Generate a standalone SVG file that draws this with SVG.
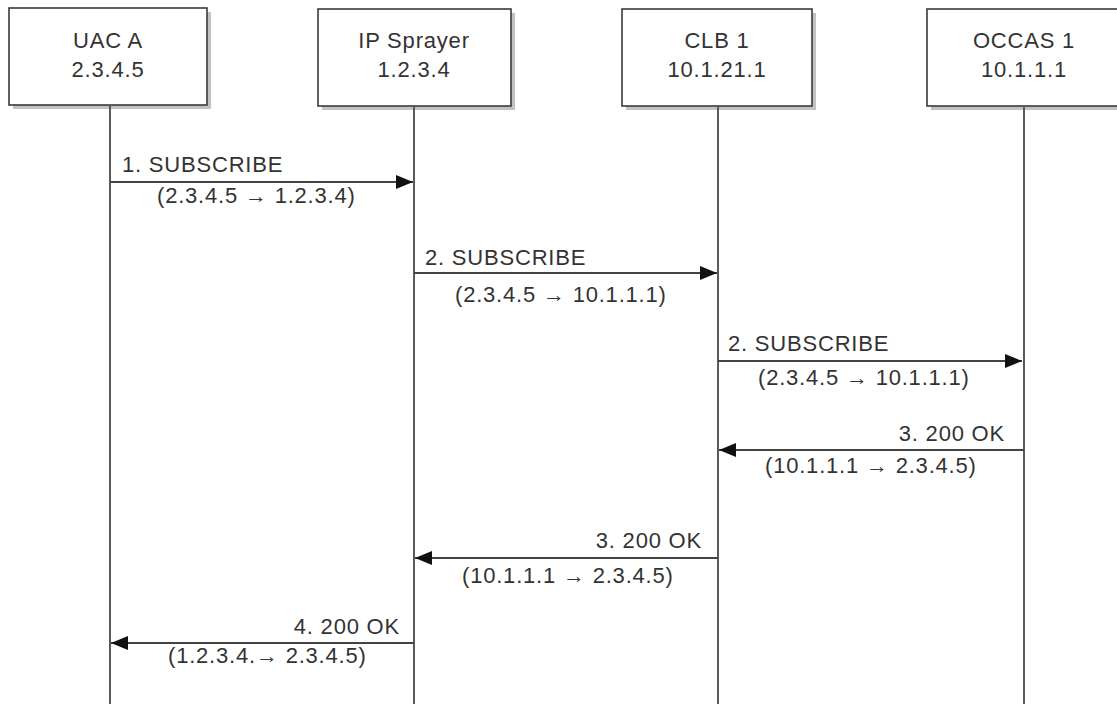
<svg xmlns="http://www.w3.org/2000/svg" width="1117" height="704" viewBox="0 0 1117 704">
<style>
.box{fill:#fff;stroke:#3a3a3a;stroke-width:1.6}
.shadow{fill:#9a9a9a;opacity:0.6}
.life{stroke:#5a5a5a;stroke-width:2;fill:none}
.msg{stroke:#444;stroke-width:2.2;fill:none;marker-end:url(#ah)}
text{font-family:"Liberation Sans",Arial,sans-serif;font-size:22px;fill:#333;letter-spacing:0.8px}
.c{text-anchor:middle}
.e{text-anchor:end}
</style>
<defs>
<marker id="ah" markerUnits="userSpaceOnUse" markerWidth="18" markerHeight="16" refX="17" refY="8" orient="auto">
<path d="M0,1 L17,8 L0,15 z" fill="#111"/>
</marker>
</defs>
<rect width="1117" height="704" fill="#fff"/>
<g id="uac">
<rect class="shadow" x="13" y="12" width="198" height="97"/>
<rect class="box" x="9" y="8" width="198" height="97"/>
<text class="c" x="108" y="48">UAC A</text>
<text class="c" x="108" y="77">2.3.4.5</text>
</g>
<g id="sprayer">
<rect class="shadow" x="322" y="13" width="193" height="97"/>
<rect class="box" x="318" y="9" width="193" height="97"/>
<text class="c" x="414" y="48">IP Sprayer</text>
<text class="c" x="414" y="77">1.2.3.4</text>
</g>
<g id="clb">
<rect class="shadow" x="626" y="13" width="190" height="97"/>
<rect class="box" x="622" y="9" width="190" height="97"/>
<text class="c" x="717" y="48">CLB 1</text>
<text class="c" x="717" y="77">10.1.21.1</text>
</g>
<g id="occas">
<rect class="shadow" x="931" y="13" width="193" height="97"/>
<rect class="box" x="927" y="9" width="193" height="97"/>
<text class="c" x="1024" y="48">OCCAS 1</text>
<text class="c" x="1024" y="77">10.1.1.1</text>
</g>
<g id="connectors">
<line class="life" x1="110" y1="106" x2="110" y2="704"/>
<line class="life" x1="414" y1="107" x2="414" y2="704"/>
<line class="life" x1="718" y1="107" x2="718" y2="704"/>
<line class="life" x1="1024" y1="107" x2="1024" y2="704"/>
<line class="msg" x1="110" y1="182" x2="413" y2="182"/>
<line class="msg" x1="414" y1="273" x2="717" y2="273"/>
<line class="msg" x1="718" y1="361" x2="1022" y2="361"/>
<line class="msg" x1="1024" y1="450" x2="719" y2="450"/>
<line class="msg" x1="718" y1="558" x2="415" y2="558"/>
<line class="msg" x1="414" y1="643" x2="111" y2="643"/>
</g>
<g id="labels">
<text x="122" y="172">1. SUBSCRIBE</text>
<text x="157" y="203">(2.3.4.5 → 1.2.3.4)</text>
<text x="425" y="265">2. SUBSCRIBE</text>
<text x="455" y="302">(2.3.4.5 → 10.1.1.1)</text>
<text x="728" y="351">2. SUBSCRIBE</text>
<text x="758" y="385">(2.3.4.5 → 10.1.1.1)</text>
<text class="e" x="1005" y="441">3. 200 OK</text>
<text x="765" y="473">(10.1.1.1 → 2.3.4.5)</text>
<text class="e" x="702" y="548">3. 200 OK</text>
<text x="462" y="583">(10.1.1.1 → 2.3.4.5)</text>
<text class="e" x="400" y="634">4. 200 OK</text>
<text x="168" y="663">(1.2.3.4.→ 2.3.4.5)</text>
</g>
</svg>
